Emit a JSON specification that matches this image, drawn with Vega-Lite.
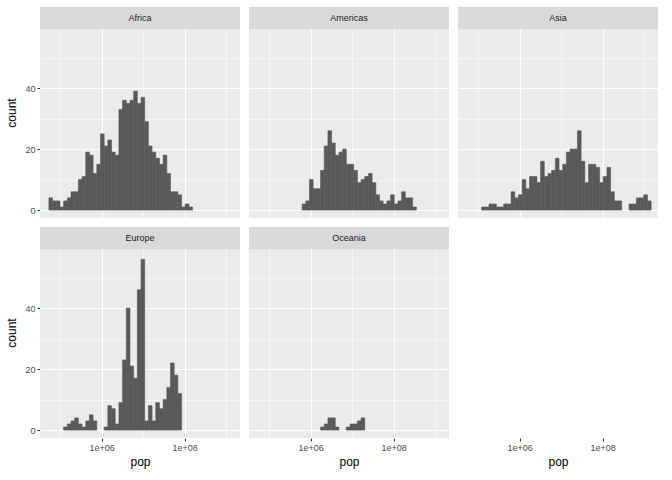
{
  "$schema": "https://vega.github.io/schema/vega-lite/v6.json",
  "padding": {"left": 5, "top": 6, "right": 5, "bottom": 5},
  "background": "white",
  "data": {"values": [
    {"c":"Africa","lo":4.734,"hi":4.822,"n":4},{"c":"Africa","lo":4.822,"hi":4.911,"n":3},{"c":"Africa","lo":4.911,"hi":5.000,"n":3},{"c":"Africa","lo":5.000,"hi":5.088,"n":1},{"c":"Africa","lo":5.088,"hi":5.177,"n":3},{"c":"Africa","lo":5.177,"hi":5.266,"n":4},{"c":"Africa","lo":5.266,"hi":5.354,"n":6},{"c":"Africa","lo":5.354,"hi":5.443,"n":6},{"c":"Africa","lo":5.443,"hi":5.531,"n":10},{"c":"Africa","lo":5.531,"hi":5.620,"n":11},{"c":"Africa","lo":5.620,"hi":5.709,"n":19},{"c":"Africa","lo":5.709,"hi":5.797,"n":18},{"c":"Africa","lo":5.797,"hi":5.886,"n":12},{"c":"Africa","lo":5.886,"hi":5.975,"n":15},{"c":"Africa","lo":5.975,"hi":6.063,"n":25},{"c":"Africa","lo":6.063,"hi":6.152,"n":21},{"c":"Africa","lo":6.152,"hi":6.241,"n":23},{"c":"Africa","lo":6.241,"hi":6.329,"n":19},{"c":"Africa","lo":6.329,"hi":6.418,"n":18},{"c":"Africa","lo":6.418,"hi":6.506,"n":33},{"c":"Africa","lo":6.506,"hi":6.595,"n":36},{"c":"Africa","lo":6.595,"hi":6.684,"n":35},{"c":"Africa","lo":6.684,"hi":6.772,"n":36},{"c":"Africa","lo":6.772,"hi":6.861,"n":39},{"c":"Africa","lo":6.861,"hi":6.950,"n":35},{"c":"Africa","lo":6.950,"hi":7.038,"n":37},{"c":"Africa","lo":7.038,"hi":7.127,"n":29},{"c":"Africa","lo":7.127,"hi":7.215,"n":21},{"c":"Africa","lo":7.215,"hi":7.304,"n":19},{"c":"Africa","lo":7.304,"hi":7.393,"n":17},{"c":"Africa","lo":7.393,"hi":7.481,"n":15},{"c":"Africa","lo":7.481,"hi":7.570,"n":18},{"c":"Africa","lo":7.570,"hi":7.659,"n":12},{"c":"Africa","lo":7.659,"hi":7.747,"n":6},{"c":"Africa","lo":7.747,"hi":7.836,"n":6},{"c":"Africa","lo":7.836,"hi":7.925,"n":5},{"c":"Africa","lo":7.925,"hi":8.013,"n":1},{"c":"Africa","lo":8.013,"hi":8.102,"n":2},{"c":"Africa","lo":8.102,"hi":8.190,"n":1},
    {"c":"Americas","lo":5.797,"hi":5.886,"n":2},{"c":"Americas","lo":5.886,"hi":5.975,"n":3},{"c":"Americas","lo":5.975,"hi":6.063,"n":10},{"c":"Americas","lo":6.063,"hi":6.152,"n":7},{"c":"Americas","lo":6.152,"hi":6.241,"n":7},{"c":"Americas","lo":6.241,"hi":6.329,"n":13},{"c":"Americas","lo":6.329,"hi":6.418,"n":21},{"c":"Americas","lo":6.418,"hi":6.506,"n":26},{"c":"Americas","lo":6.506,"hi":6.595,"n":22},{"c":"Americas","lo":6.595,"hi":6.684,"n":18},{"c":"Americas","lo":6.684,"hi":6.772,"n":19},{"c":"Americas","lo":6.772,"hi":6.861,"n":20},{"c":"Americas","lo":6.861,"hi":6.950,"n":15},{"c":"Americas","lo":6.950,"hi":7.038,"n":15},{"c":"Americas","lo":7.038,"hi":7.127,"n":13},{"c":"Americas","lo":7.127,"hi":7.215,"n":9},{"c":"Americas","lo":7.215,"hi":7.304,"n":10},{"c":"Americas","lo":7.304,"hi":7.393,"n":11},{"c":"Americas","lo":7.393,"hi":7.481,"n":12},{"c":"Americas","lo":7.481,"hi":7.570,"n":9},{"c":"Americas","lo":7.570,"hi":7.659,"n":5},{"c":"Americas","lo":7.659,"hi":7.747,"n":3},{"c":"Americas","lo":7.747,"hi":7.836,"n":2},{"c":"Americas","lo":7.836,"hi":7.925,"n":3},{"c":"Americas","lo":7.925,"hi":8.013,"n":5},{"c":"Americas","lo":8.013,"hi":8.102,"n":2},{"c":"Americas","lo":8.102,"hi":8.190,"n":3},{"c":"Americas","lo":8.190,"hi":8.279,"n":6},{"c":"Americas","lo":8.279,"hi":8.368,"n":4},{"c":"Americas","lo":8.368,"hi":8.456,"n":4},{"c":"Americas","lo":8.456,"hi":8.545,"n":1},
    {"c":"Asia","lo":5.088,"hi":5.177,"n":1},{"c":"Asia","lo":5.177,"hi":5.266,"n":1},{"c":"Asia","lo":5.266,"hi":5.354,"n":2},{"c":"Asia","lo":5.354,"hi":5.443,"n":2},{"c":"Asia","lo":5.443,"hi":5.531,"n":1},{"c":"Asia","lo":5.531,"hi":5.620,"n":1},{"c":"Asia","lo":5.620,"hi":5.709,"n":2},{"c":"Asia","lo":5.709,"hi":5.797,"n":2},{"c":"Asia","lo":5.797,"hi":5.886,"n":6},{"c":"Asia","lo":5.886,"hi":5.975,"n":4},{"c":"Asia","lo":5.975,"hi":6.063,"n":5},{"c":"Asia","lo":6.063,"hi":6.152,"n":10},{"c":"Asia","lo":6.152,"hi":6.241,"n":7},{"c":"Asia","lo":6.241,"hi":6.329,"n":11},{"c":"Asia","lo":6.329,"hi":6.418,"n":11},{"c":"Asia","lo":6.418,"hi":6.506,"n":9},{"c":"Asia","lo":6.506,"hi":6.595,"n":16},{"c":"Asia","lo":6.595,"hi":6.684,"n":11},{"c":"Asia","lo":6.684,"hi":6.772,"n":12},{"c":"Asia","lo":6.772,"hi":6.861,"n":13},{"c":"Asia","lo":6.861,"hi":6.950,"n":17},{"c":"Asia","lo":6.950,"hi":7.038,"n":13},{"c":"Asia","lo":7.038,"hi":7.127,"n":15},{"c":"Asia","lo":7.127,"hi":7.215,"n":19},{"c":"Asia","lo":7.215,"hi":7.304,"n":20},{"c":"Asia","lo":7.304,"hi":7.393,"n":20},{"c":"Asia","lo":7.393,"hi":7.481,"n":26},{"c":"Asia","lo":7.481,"hi":7.570,"n":16},{"c":"Asia","lo":7.570,"hi":7.659,"n":9},{"c":"Asia","lo":7.659,"hi":7.747,"n":15},{"c":"Asia","lo":7.747,"hi":7.836,"n":15},{"c":"Asia","lo":7.836,"hi":7.925,"n":14},{"c":"Asia","lo":7.925,"hi":8.013,"n":9},{"c":"Asia","lo":8.013,"hi":8.102,"n":11},{"c":"Asia","lo":8.102,"hi":8.190,"n":14},{"c":"Asia","lo":8.190,"hi":8.279,"n":6},{"c":"Asia","lo":8.279,"hi":8.368,"n":3},{"c":"Asia","lo":8.368,"hi":8.456,"n":3},{"c":"Asia","lo":8.634,"hi":8.722,"n":2},{"c":"Asia","lo":8.722,"hi":8.811,"n":2},{"c":"Asia","lo":8.811,"hi":8.900,"n":4},{"c":"Asia","lo":8.900,"hi":8.988,"n":4},{"c":"Asia","lo":8.988,"hi":9.077,"n":5},{"c":"Asia","lo":9.077,"hi":9.165,"n":3},
    {"c":"Europe","lo":5.088,"hi":5.177,"n":1},{"c":"Europe","lo":5.177,"hi":5.266,"n":2},{"c":"Europe","lo":5.266,"hi":5.354,"n":3},{"c":"Europe","lo":5.354,"hi":5.443,"n":4},{"c":"Europe","lo":5.443,"hi":5.531,"n":2},{"c":"Europe","lo":5.531,"hi":5.620,"n":1},{"c":"Europe","lo":5.620,"hi":5.709,"n":3},{"c":"Europe","lo":5.709,"hi":5.797,"n":5},{"c":"Europe","lo":5.797,"hi":5.886,"n":3},{"c":"Europe","lo":6.063,"hi":6.152,"n":1},{"c":"Europe","lo":6.152,"hi":6.241,"n":8},{"c":"Europe","lo":6.241,"hi":6.329,"n":7},{"c":"Europe","lo":6.329,"hi":6.418,"n":2},{"c":"Europe","lo":6.418,"hi":6.506,"n":9},{"c":"Europe","lo":6.506,"hi":6.595,"n":23},{"c":"Europe","lo":6.595,"hi":6.684,"n":40},{"c":"Europe","lo":6.684,"hi":6.772,"n":21},{"c":"Europe","lo":6.772,"hi":6.861,"n":17},{"c":"Europe","lo":6.861,"hi":6.950,"n":46},{"c":"Europe","lo":6.950,"hi":7.038,"n":56},{"c":"Europe","lo":7.038,"hi":7.127,"n":3},{"c":"Europe","lo":7.127,"hi":7.215,"n":8},{"c":"Europe","lo":7.215,"hi":7.304,"n":3},{"c":"Europe","lo":7.304,"hi":7.393,"n":9},{"c":"Europe","lo":7.393,"hi":7.481,"n":7},{"c":"Europe","lo":7.481,"hi":7.570,"n":10},{"c":"Europe","lo":7.570,"hi":7.659,"n":14},{"c":"Europe","lo":7.659,"hi":7.747,"n":22},{"c":"Europe","lo":7.747,"hi":7.836,"n":18},{"c":"Europe","lo":7.836,"hi":7.925,"n":12},
    {"c":"Oceania","lo":6.241,"hi":6.329,"n":1},{"c":"Oceania","lo":6.329,"hi":6.418,"n":2},{"c":"Oceania","lo":6.418,"hi":6.506,"n":4},{"c":"Oceania","lo":6.506,"hi":6.595,"n":4},{"c":"Oceania","lo":6.595,"hi":6.684,"n":1},{"c":"Oceania","lo":6.861,"hi":6.950,"n":1},{"c":"Oceania","lo":6.950,"hi":7.038,"n":2},{"c":"Oceania","lo":7.038,"hi":7.127,"n":2},{"c":"Oceania","lo":7.127,"hi":7.215,"n":3},{"c":"Oceania","lo":7.215,"hi":7.304,"n":4}
  ]},
  "facet": {"field": "c", "type": "nominal", "title": null, "header": {"labelExpr": "''", "labelPadding": 0, "labelFontSize": 1, "title": null}},
  "columns": 3,
  "spacing": {"column": 9, "row": 8},
  "spec": {
    "width": 200,
    "height": 211,
    "layer": [
      {
        "mark": {"type": "bar", "color": "#595959", "stroke": "#595959", "strokeWidth": 0.6},
        "encoding": {
          "x": {"field": "lo", "type": "quantitative", "title": "pop",
            "scale": {"domain": [4.52, 9.33], "nice": false, "zero": false},
            "axis": {"values": [5, 6, 7, 8, 9],
              "labelExpr": "datum.value == 6 || datum.value == 8 ? '1e+0' + datum.value : ''",
              "tickColor": {"condition": {"test": "datum.value == 6 || datum.value == 8", "value": "#333333"}, "value": null},
              "gridWidth": {"condition": {"test": "datum.value == 6 || datum.value == 8", "value": 1.1}, "value": 0.5}}},
          "x2": {"field": "hi"},
          "y": {"field": "n", "type": "quantitative", "title": "count",
            "scale": {"domain": [-2.6, 66.6], "nice": false, "zero": false},
            "axis": {"values": [0, 10, 20, 30, 40, 50],
              "labelExpr": "datum.value % 20 == 0 ? datum.value : ''",
              "tickColor": {"condition": {"test": "datum.value % 20 == 0", "value": "#333333"}, "value": null},
              "gridWidth": {"condition": {"test": "datum.value % 20 == 0", "value": 1.1}, "value": 0.5}}},
          "y2": {"datum": 0}
        }
      },
      {
        "transform": [{"aggregate": [{"op": "count", "as": "k"}], "groupby": ["c"]}],
        "mark": {"type": "rect", "color": "#d9d9d9"},
        "encoding": {
          "x": {"datum": 4.52},
          "x2": {"datum": 9.33},
          "y": {"datum": 59.3},
          "y2": {"datum": 66.6}
        }
      },
      {
        "transform": [{"aggregate": [{"op": "count", "as": "k"}], "groupby": ["c"]}],
        "mark": {"type": "text", "fontSize": 9, "color": "#1a1a1a", "font": "Liberation Sans"},
        "encoding": {
          "text": {"field": "c"},
          "x": {"datum": 6.925},
          "y": {"datum": 62.95}
        }
      }
    ]
  },
  "config": {
    "font": "Liberation Sans",
    "view": {"fill": "#ebebeb", "stroke": null},
    "header": {"labels": false, "title": null},
    "axis": {
      "domain": false,
      "gridColor": "white",
      "tickSize": 3,
      "labelColor": "#4d4d4d",
      "labelFontSize": 9,
      "labelFont": "Liberation Sans",
      "titleFont": "Liberation Sans",
      "titleFontSize": 12,
      "titleFontWeight": "normal",
      "titleColor": "black",
      "labelPadding": 2
    },
    "axisY": {"titlePadding": 6}
  }
}
